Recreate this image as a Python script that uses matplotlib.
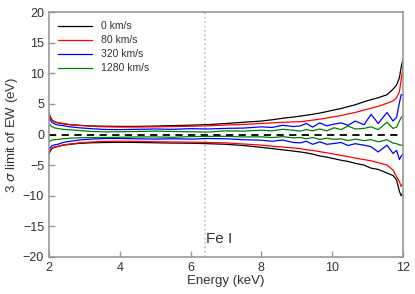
import matplotlib
matplotlib.use("Agg")
import matplotlib.pyplot as plt

energy = [2.0, 2.03, 2.08, 2.15, 2.25, 2.4, 2.6, 2.85, 3.2, 3.6, 4.0, 4.5, 5.0, 5.5, 6.0, 6.5,
          7.0, 7.5, 8.0, 8.3, 8.6, 8.9, 9.1, 9.27, 9.45, 9.65, 9.85, 10.05, 10.25, 10.45, 10.65,
          10.9, 11.1, 11.3, 11.55, 11.72, 11.82, 11.9, 11.95, 12.0]

black_up = [3.6, 3.0, 2.4, 2.1, 1.9, 1.75, 1.6, 1.5, 1.4, 1.35, 1.32, 1.32, 1.38, 1.45, 1.52, 1.62,
            1.8, 2.0, 2.2, 2.4, 2.65, 2.85, 3.0, 3.15, 3.3, 3.5, 3.75, 4.0, 4.25, 4.55, 4.85,
            5.35, 5.7, 6.0, 6.5, 7.4, 8.1, 9.3, 11.0, 12.3]
red_up = [3.3, 2.9, 2.4, 2.1, 1.95, 1.8, 1.6, 1.5, 1.35, 1.25, 1.22, 1.22, 1.25, 1.3, 1.35, 1.42,
          1.55, 1.65, 1.8, 1.9, 2.0, 2.05, 2.1, 2.2, 2.35, 2.5, 2.7, 2.9, 3.1, 3.35, 3.6,
          4.0, 4.3, 4.6, 5.1, 5.5, 6.0, 7.0, 9.0, 10.8]
blue_up = [2.9, 2.5, 2.0, 1.75, 1.55, 1.45, 1.25, 1.1, 0.95, 0.82, 0.8, 0.85, 0.9, 0.85, 0.95, 0.9,
           1.0, 1.05, 1.25, 1.15, 1.5, 1.3, 1.4, 1.8, 1.2, 1.9, 1.4, 1.7, 1.9, 1.5, 2.2,
           1.6, 3.3, 1.8, 3.6, 2.2, 2.8, 5.2, 6.5, 6.5]
green_up = [1.8, 1.6, 1.3, 1.1, 0.97, 0.85, 0.75, 0.65, 0.5, 0.43, 0.45, 0.5, 0.55, 0.5, 0.45, 0.4,
            0.6, 0.55, 0.7, 0.6, 0.85, 0.7, 0.55, 0.8, 0.6, 0.9, 0.6, 1.1, 0.8, 1.4, 0.9,
            1.0, 1.25, 0.8, 2.0, 1.0, 1.2, 2.2, 2.8, 3.0]

black_lo = [-3.2, -2.8, -2.3, -2.1, -1.95, -1.75, -1.6, -1.45, -1.35, -1.3, -1.28, -1.3, -1.35, -1.4, -1.42, -1.5,
            -1.6, -1.8, -2.1, -2.3, -2.5, -2.7, -2.85, -3.0, -3.2, -3.5, -3.7, -3.95, -4.2, -4.4, -4.7,
            -5.0, -5.5, -5.7, -6.3, -6.7, -7.4, -9.3, -10.0, -9.6]
red_lo = [-2.9, -2.6, -2.2, -2.05, -1.95, -1.7, -1.55, -1.38, -1.22, -1.12, -1.1, -1.12, -1.18, -1.22, -1.25, -1.3,
          -1.37, -1.55, -1.74, -1.9, -2.05, -2.2, -2.3, -2.5, -2.6, -2.8, -3.0, -3.2, -3.4, -3.6, -3.85,
          -4.1, -4.3, -4.6, -5.0, -5.8, -6.9, -7.7, -8.5, -8.0]
blue_lo = [-2.5, -2.2, -1.85, -1.7, -1.6, -1.3, -1.1, -0.9, -0.75, -0.65, -0.65, -0.7, -0.75, -0.7, -0.75, -0.65,
           -0.7, -0.85, -0.93, -1.1, -0.9, -1.3, -1.37, -1.1, -1.6, -1.2, -1.6, -1.47, -1.3, -1.8, -1.5,
           -1.74, -2.0, -2.85, -1.74, -3.1, -2.6, -4.1, -3.5, -3.2]
green_lo = [-1.2, -1.1, -0.9, -0.85, -0.8, -0.7, -0.6, -0.54, -0.5, -0.5, -0.45, -0.4, -0.4, -0.45, -0.35, -0.3,
            -0.3, -0.4, -0.38, -0.5, -0.35, -0.55, -0.5, -0.7, -0.5, -0.8, -0.6, -0.8, -0.7, -1.0, -0.75,
            -1.0, -0.85, -1.2, -0.85, -1.4, -1.5, -1.7, -1.75, -1.8]

labels = ["0 km/s", "80 km/s", "320 km/s", "1280 km/s"]
colors = ["black", "red", "blue", "green"]
uppers = [black_up, red_up, blue_up, green_up]
lowers = [black_lo, red_lo, blue_lo, green_lo]

fe_line = 6.4
xticks = [2, 4, 6, 8, 10, 12]
yticks = [-20, -15, -10, -5, 0, 5, 10, 15, 20]

plt.rcParams['font.family'] = ['Liberation Sans', 'DejaVu Sans']
fig = plt.figure(figsize=(4.15, 2.94), dpi=100)
ax = fig.add_axes([0.118, 0.126, 0.853, 0.833])

ax.axvline(fe_line, color='#bbbbbb', ls=':', lw=1.2, zorder=1)
for lab, c, up, lo in zip(labels, colors, uppers, lowers):
    ax.plot(energy, up, color=c, lw=0.9, label=lab)
    ax.plot(energy, lo, color=c, lw=0.9)
ax.axhline(0, color='black', ls=(0, (4, 3)), lw=1.3)

ax.text(6.43, -17.0, "Fe I", fontsize=11, color='#333333', va='center', ha='left')

ax.set_xlim(2, 12)
ax.set_ylim(-20, 20)
ax.set_xticks(xticks)
ax.set_yticks(yticks)
ax.tick_params(direction='in', length=4, width=1, colors='#999999', labelcolor='#333333', labelsize=9)
for s in ax.spines.values():
    s.set_color('#999999')
    s.set_linewidth(1.2)
ax.set_xlabel("Energy (keV)", fontsize=9.5, color='#333333', labelpad=1)
ax.set_ylabel(r"3 $\sigma$ limit of EW (eV)", fontsize=9.5, color='#333333', labelpad=2)

leg = ax.legend(loc='upper left', frameon=False, fontsize=7.5, handlelength=3.2,
                handletextpad=0.9, labelspacing=0.38, borderaxespad=0.5)
for t in leg.get_texts():
    t.set_color('#333333')

fig.savefig("out.png", dpi=100)
